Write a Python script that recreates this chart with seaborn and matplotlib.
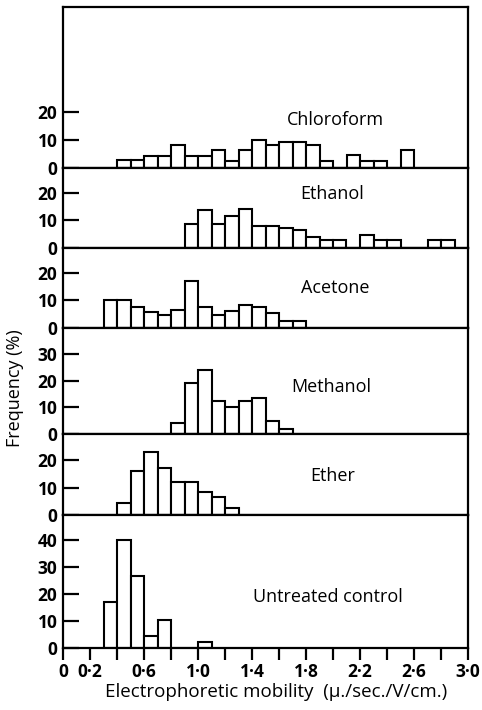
import numpy as np
import pandas as pd
import matplotlib
matplotlib.use("Agg")
import matplotlib.pyplot as plt
import seaborn as sns

# ---- data (frequency % per 0.1 mobility bin, starting at *_start) ----
panel_names = ["Chloroform", "Ethanol", "Acetone", "Methanol", "Ether", "Untreated control"]
bin_width = 0.1

chloroform_start = 0.4
chloroform = [3, 3, 4.5, 4.5, 8.2, 4.5, 4.5, 6.4, 2.7, 6.6, 10.1, 8.2, 9.4, 9.4, 8.2, 2.7,
              0, 4.8, 2.7, 2.7, 0, 6.5]
ethanol_start = 0.9
ethanol = [8.7, 13.6, 8.7, 11.5, 14.3, 8.1, 8.1, 7.3, 6.4, 3.9, 2.8, 2.8, 0, 4.7, 2.8, 2.8,
           0, 0, 2.8, 2.8]
acetone_start = 0.3
acetone = [10, 10, 7.3, 5.6, 4.4, 6.4, 17, 7.3, 4.4, 6.1, 8.2, 7.3, 5.2, 2.2, 2.2]
methanol_start = 0.8
methanol = [4, 19.3, 24, 12.5, 10.3, 12.5, 13.7, 4.7, 2.0]
ether_start = 0.4
ether = [4.5, 16.1, 22.8, 17.2, 12.1, 12.1, 8.2, 6.4, 2.4]
control_start = 0.3
control = [17.1, 40.2, 26.7, 4.5, 10.3, 0, 0, 2.2]

starts = [chloroform_start, ethanol_start, acetone_start, methanol_start, ether_start, control_start]
series = [chloroform, ethanol, acetone, methanol, ether, control]

y_max = [58, 29, 29, 40, 29.5, 49.4]
y_ticks = [[0, 10, 20], [0, 10, 20], [0, 10, 20], [0, 10, 20, 30], [0, 10, 20], [0, 10, 20, 30, 40]]
panel_heights = [161, 80, 79.5, 106.5, 81, 133]
label_pos = [(2.02, 17.4), (1.99, 19.4), (2.02, 14.5), (1.99, 17.5), (2.0, 14.2), (1.96, 19.0)]

x_ticks = [0, 0.2, 0.4, 0.6, 0.8, 1.0, 1.2, 1.4, 1.6, 1.8, 2.0, 2.2, 2.4, 2.6, 2.8, 3.0]
x_tick_labels = ["0", "0·2", "", "0·6", "", "1·0", "", "1·4", "", "1·8", "", "2·2", "", "2·6", "", "3·0"]

# ---- plot ----
sns.set_theme(style="white")
plt.rcParams["font.family"] = ["Open Sans", "DejaVu Sans"]
plt.rcParams["text.color"] = "black"
plt.rcParams["axes.labelcolor"] = "black"
plt.rcParams["xtick.color"] = "black"
plt.rcParams["ytick.color"] = "black"

fig = plt.figure(figsize=(4.82, 7.10), dpi=100)
gs = fig.add_gridspec(len(series), 1, height_ratios=panel_heights, hspace=0,
                      left=63 / 482, right=468 / 482, bottom=(710 - 648) / 710, top=(710 - 7) / 710)

for i, (name, start, vals) in enumerate(zip(panel_names, starts, series)):
    ax = fig.add_subplot(gs[i])
    n = len(vals)
    centers = start + bin_width * (np.arange(n) + 0.5)
    df = pd.DataFrame({"mobility": centers, "freq": vals})
    sns.histplot(data=df, x="mobility", weights="freq", binwidth=bin_width,
                 binrange=(start, start + n * bin_width), stat="count",
                 color="white", edgecolor="black", linewidth=1.5, alpha=1, ax=ax)
    ax.set_xlim(0, 3.0)
    ax.set_ylim(0, y_max[i])
    ax.set_yticks(y_ticks[i])
    ax.set_yticklabels([str(t) for t in y_ticks[i]])
    ax.set_ylabel("")
    ax.set_xlabel("")
    for sp in ax.spines.values():
        sp.set_visible(True)
        sp.set_color("black")
        sp.set_linewidth(1.6)
    ax.tick_params(axis="y", direction="in", length=11.5, width=1.6, colors="black",
                   labelsize=12.5, pad=4, left=True)
    for lab in ax.get_yticklabels():
        lab.set_fontweight("bold")
    ax.text(label_pos[i][0], label_pos[i][1], name, ha="center", va="center",
            fontsize=13, color="black")
    if i < len(series) - 1:
        ax.set_xticks([])
    else:
        ax.set_xticks(x_ticks)
        ax.set_xticklabels(x_tick_labels)
        ax.tick_params(axis="x", direction="out", length=8.5, width=1.6, colors="black",
                       labelsize=12.5, pad=2, bottom=True)
        for lab in ax.get_xticklabels():
            lab.set_fontweight("bold")
        ax.set_xlabel("Electrophoretic mobility  (μ./sec./V/cm.)", fontsize=13.5, color="black")
        ax.xaxis.set_label_coords((276 - 63) / (468 - 63), -0.26)

fig.text(15 / 482, 1 - 388 / 710, "Frequency (%)", rotation=90, ha="center", va="center",
         fontsize=13, color="black")

fig.savefig("out.png", dpi=100, facecolor="white")
